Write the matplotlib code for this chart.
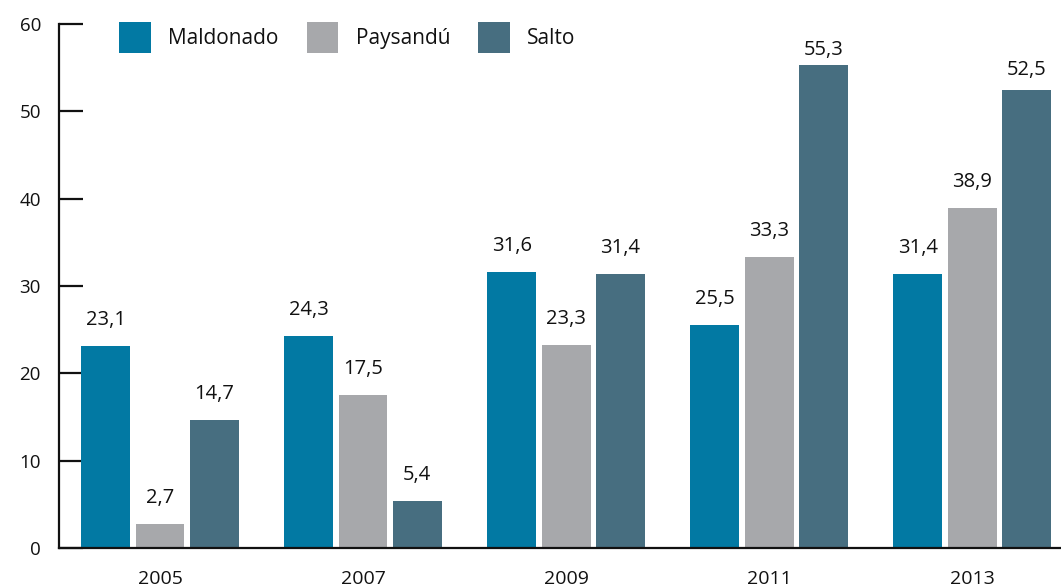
import numpy as np
import matplotlib
matplotlib.use("Agg")
import matplotlib.pyplot as plt

plt.rcParams['font.family'] = ['Open Sans', 'DejaVu Sans']

# === data ===
years = ["2005", "2007", "2009", "2011", "2013"]
maldonado = [23.1, 24.3, 31.6, 25.5, 31.4]
paysandu = [2.7, 17.5, 23.3, 33.3, 38.9]
salto = [14.7, 5.4, 31.4, 55.3, 52.5]

series_names = ["Maldonado", "Paysandú", "Salto"]
colors = ["#0279a3", "#a7a8ab", "#476e80"]

fig = plt.figure(figsize=(10.61, 5.88), dpi=100)
ax = fig.add_axes([59 / 1061, 40 / 588, 1 - 59 / 1061, 524 / 588])

x = np.arange(len(years))
width = 0.241
step = 0.267

for i, (vals, name, c) in enumerate(zip([maldonado, paysandu, salto], series_names, colors)):
    pos = x + (i - 1) * step
    ax.bar(pos, vals, width=width, color=c, label=name, zorder=2)
    for xp, v in zip(pos, vals):
        # labels close to the top get pushed down a bit
        off = 26 if v < 50 else (15 if v > 54 else 20)
        ax.annotate(f"{v:.1f}".replace(".", ","), (xp, v), xytext=(0, off * 0.72),
                    textcoords="offset points", ha="center", va="center",
                    fontsize=14.5, color="#111111")

ax.set_xlim(-0.4975, 4.438)
ax.set_ylim(0, 60)
ax.set_yticks(range(0, 61, 10))
ax.set_xticks(x)
ax.set_xticklabels(years)

for s in ["top", "right"]:
    ax.spines[s].set_visible(False)
for s in ["left", "bottom"]:
    ax.spines[s].set_linewidth(1.6)
    ax.spines[s].set_color("#111111")

ax.tick_params(axis="y", direction="in", length=17, width=1.6, color="#111111",
               labelcolor="#111111", labelsize=13.5, pad=13)
ax.tick_params(axis="x", length=0, labelsize=14, labelcolor="#111111", pad=16)

leg = ax.legend(loc="upper left", bbox_to_anchor=(0.052, 1.02), ncol=3, frameon=False,
                fontsize=15, handlelength=1.5, handleheight=1.95,
                handletextpad=0.85, columnspacing=1.35, borderaxespad=0)
for t in leg.get_texts():
    t.set_color("#111111")

fig.savefig("out.png", dpi=100)
